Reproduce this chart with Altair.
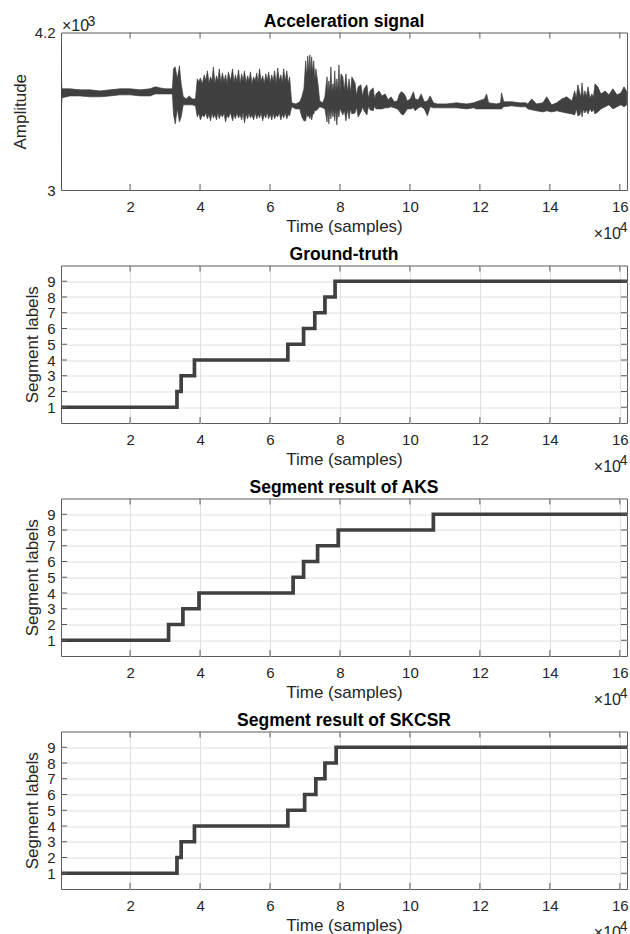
import altair as alt
import pandas as pd

FONT = "Liberation Sans"
INK = "#404040"
FRAME = "#5c5c5c"
GRID = "#e0e0e0"
LABEL = "#262626"
W = 566
H = 157.5

# ---------------- data ----------------
x_domain = [250, 162050]
x_ticks = [20000, 40000, 60000, 80000, 100000, 120000, 140000, 160000]

# acceleration signal: upper / lower envelope
sig_t = [250, 350, 500, 2800, 5700, 8500, 11400, 14300, 17100, 20000, 22900, 25700,
         27200, 28600, 30000, 32100, 32400, 32900, 33500, 34100, 34600, 35200, 36100,
         36900, 37800, 38700, 39200, 40100, 41200, 42100, 43000, 43800, 44700, 45500,
         46400, 47300, 48100, 49300, 50100, 51000, 51900, 52700, 53600, 54400, 55300,
         56200, 57000, 57900, 58800, 59600, 60500, 61300, 62200, 63100, 63900, 64800,
         65600, 66200, 67400, 68500, 69100, 69700, 70200, 70800, 71400, 71900, 72500,
         73100, 73700, 74200, 75100, 75700, 76300, 76800, 77400, 78000, 78500, 79100,
         79700, 80300, 80800, 81700, 82600, 83400, 84300, 85200, 86000, 86900, 87700,
         88600, 89500, 90300, 91200, 92000, 92900, 93800, 94600, 95500, 96400, 96900,
         97500, 98100, 98700, 99200, 100100, 101000, 101500, 102400, 103200, 104100,
         105000, 105800, 106700, 107800, 110400, 113300, 116200, 118200, 119000, 121300,
         121900, 122500, 124800, 125900, 126200, 126800, 129100, 131400, 133100, 133700,
         134800, 136200, 138000, 139100, 140500, 142000, 143400, 144800, 146300, 147100,
         148000, 148600, 149200, 150000, 150900, 152000, 152900, 153700, 154600, 155800,
         156900, 158000, 159200, 160300, 161200, 162000]
sig_hi = [4113, 3870, 3771, 3771, 3763, 3763, 3755, 3763, 3771, 3771, 3763, 3771,
          3786, 3778, 3771, 3771, 3923, 3938, 3847, 3946, 3809, 3710, 3694,
          3717, 3694, 3694, 3847, 3854, 3877, 3908, 3862, 3938, 3870, 3923,
          3892, 3877, 3900, 3923, 3877, 3915, 3885, 3908, 3870, 3900, 3862,
          3892, 3923, 3870, 3885, 3900, 3877, 3908, 3930, 3877, 3923, 3908,
          3862, 3664, 3656, 3672, 3710, 3771, 3984, 4022, 4029, 4014, 3984,
          3923, 3809, 3679, 3664, 3710, 3862, 3831, 3938, 3809, 3908, 3847,
          3953, 3885, 3862, 3885, 3847, 3862, 3816, 3786, 3801, 3771, 3801,
          3755, 3778, 3732, 3755, 3717, 3732, 3687, 3710, 3672, 3679, 3725,
          3748, 3740, 3717, 3679, 3694, 3748, 3694, 3687, 3732, 3672,
          3679, 3717, 3664, 3656, 3656, 3664, 3656, 3664, 3672, 3694,
          3732, 3664, 3656, 3664, 3740, 3672, 3672, 3664, 3664, 3656,
          3694, 3656, 3664, 3710, 3649, 3664, 3694, 3710, 3679, 3755,
          3801, 3732, 3816, 3755, 3786, 3732, 3809, 3786, 3732, 3755,
          3725, 3771, 3725, 3740, 3786, 3748]
sig_lo = [3009, 3600, 3702, 3717, 3717, 3710, 3710, 3717, 3725, 3725, 3717, 3717,
          3732, 3732, 3732, 3732, 3580, 3504, 3618, 3519, 3557, 3649, 3649,
          3649, 3649, 3641, 3557, 3534, 3557, 3542, 3527, 3549, 3534, 3542,
          3557, 3519, 3549, 3527, 3542, 3549, 3534, 3511, 3542, 3549, 3534,
          3542, 3549, 3527, 3549, 3542, 3534, 3542, 3557, 3534, 3549, 3542,
          3565, 3634, 3618, 3618, 3557, 3527, 3527, 3557, 3542, 3534, 3580,
          3603, 3618, 3634, 3626, 3618, 3519, 3504, 3542, 3557, 3527, 3496,
          3557, 3603, 3572, 3527, 3542, 3580, 3587, 3557, 3595, 3603, 3572,
          3611, 3603, 3618, 3618, 3618, 3626, 3626, 3634, 3626, 3618, 3603,
          3580, 3572, 3595, 3618, 3618, 3626, 3603, 3626, 3634, 3618,
          3565, 3634, 3626, 3626, 3626, 3626, 3618, 3626, 3618, 3618,
          3618, 3618, 3618, 3618, 3618, 3634, 3641, 3634, 3634, 3618,
          3611, 3603, 3595, 3603, 3595, 3603, 3595, 3587, 3580, 3572,
          3565, 3572, 3557, 3587, 3580, 3595, 3580, 3595, 3618, 3634,
          3649, 3618, 3634, 3649, 3634, 3649]

# narrow dips between the spikes of the busy stretches
dip_t = [39650, 40650, 41650, 42550, 43400, 44250, 45100, 45950, 46850, 47700,
         48700, 49700, 50550, 51450, 52300, 53150, 54000, 54850, 55750, 56600,
         57450, 58350, 59200, 60050, 60900, 61750, 62650, 63500, 64350, 65200,
         70500, 71100, 71650, 72200, 72800,
         76550, 77100, 77700, 78250, 78800, 79400, 80000, 81250, 82150, 83000,
         84750, 86450, 88150, 89900, 147550, 148900, 149600, 150450, 151450, 152450]
dip_hi = [3825, 3810, 3832, 3815, 3828, 3812, 3830, 3818, 3826, 3810,
          3832, 3815, 3828, 3812, 3830, 3818, 3826, 3810, 3832, 3815,
          3828, 3812, 3830, 3818, 3826, 3810, 3832, 3815, 3828, 3812,
          3860, 3900, 3880, 3890, 3840,
          3740, 3755, 3748, 3760, 3745, 3752, 3748, 3760, 3745, 3740,
          3720, 3715, 3700, 3695, 3700, 3710, 3705, 3712, 3700, 3705]
dip_lo = [3585, 3572, 3590, 3578, 3588, 3575, 3592, 3580, 3586, 3572,
          3590, 3578, 3588, 3575, 3592, 3580, 3586, 3572, 3590, 3578,
          3588, 3575, 3592, 3580, 3586, 3572, 3590, 3578, 3588, 3575,
          3585, 3570, 3580, 3575, 3610,
          3625, 3615, 3620, 3610, 3618, 3612, 3620, 3610, 3615, 3620,
          3630, 3632, 3640, 3640, 3620, 3615, 3618, 3612, 3620, 3615]

seg_labels = [1, 2, 3, 4, 5, 6, 7, 8, 9]
gt_change = [0, 33400, 34600, 38400, 65100, 69600, 72800, 75700, 78600]
aks_change = [0, 31000, 35100, 39700, 66600, 69600, 73600, 79500, 106700]
skcsr_change = [0, 33400, 34600, 38400, 65100, 69900, 73100, 75700, 78900]
t_end = 162050

# ---------------- helpers ----------------
xs = alt.Scale(domain=x_domain, nice=False, zero=False)


def x_axis(grid):
    return alt.Axis(values=x_ticks, labelExpr="datum.value / 10000",
                    title="Time (samples)", grid=grid)


def x_tick_layers(axis):
    df = pd.DataFrame({"t": x_ticks})
    top = alt.Chart(df).mark_rule(color=FRAME, strokeWidth=1).encode(
        x=alt.X("t:Q", scale=xs, axis=axis), y=alt.value(0), y2=alt.value(6))
    bot = alt.Chart(df).mark_rule(color=FRAME, strokeWidth=1).encode(
        x=alt.X("t:Q", scale=xs, axis=axis), y=alt.value(H), y2=alt.value(H - 6))
    return [top, bot]


def txt(s, x, y, size, align, weight="normal", color=LABEL):
    return alt.Chart(pd.DataFrame({"s": [s]})).mark_text(
        font=FONT, fontSize=size, align=align, baseline="alphabetic", color=color,
        fontWeight=weight,
    ).encode(text="s:N", x=alt.value(x), y=alt.value(y))


def exp10_x(power):
    return [txt("×10", W - 6, H + 48.5, 16, "right"),
            txt(power, W + 0.5, H + 41.5, 14, "right")]


def title(s):
    return txt(s, W / 2, -6, 17.5, "center", "bold", "black")


# ---------------- panel 1: signal ----------------
sig_df = pd.concat([
    pd.DataFrame({"t": sig_t, "hi": sig_hi, "lo": sig_lo}),
    pd.DataFrame({"t": dip_t, "hi": dip_hi, "lo": dip_lo}),
]).sort_values("t").reset_index(drop=True)
ax1 = x_axis(False)
sig = alt.Chart(sig_df).mark_area(color=INK, stroke=INK, strokeWidth=0.7, clip=True).encode(
    x=alt.X("t:Q", scale=xs, axis=ax1),
    y=alt.Y("hi:Q", scale=alt.Scale(domain=[3000, 4200], nice=False, zero=False),
            axis=alt.Axis(values=[3000, 4200], labelExpr="datum.value / 1000",
                          title="Amplitude", grid=False)),
    y2="lo:Q",
)
p1 = alt.layer(
    sig, *x_tick_layers(ax1),
    txt("×10", 1, -1.5, 16, "left"), txt("3", 26.5, -7, 14, "left"),
    *exp10_x("4"), title("Acceleration signal"),
).properties(width=W, height=H)


# ---------------- segment panels ----------------
ys = alt.Scale(domain=[0, 10], nice=False, zero=False)


def seg_panel(change, name):
    df = pd.DataFrame({"t": change + [t_end], "label": seg_labels + [seg_labels[-1]]})
    ax = x_axis(True)
    yax = alt.Axis(values=seg_labels, title="Segment labels", grid=True)
    line = alt.Chart(df).mark_line(interpolate="step-after", color=INK, strokeWidth=3.7,
                                   clip=True).encode(
        x=alt.X("t:Q", scale=xs, axis=ax),
        y=alt.Y("label:Q", scale=ys, axis=yax),
    )
    ydf = pd.DataFrame({"label": seg_labels})
    yl = alt.Chart(ydf).mark_rule(color=FRAME, strokeWidth=1).encode(
        y=alt.Y("label:Q", scale=ys, axis=yax), x=alt.value(0), x2=alt.value(6))
    yr = alt.Chart(ydf).mark_rule(color=FRAME, strokeWidth=1).encode(
        y=alt.Y("label:Q", scale=ys, axis=yax), x=alt.value(W - 6), x2=alt.value(W))
    return alt.layer(line, yl, yr, *x_tick_layers(ax), *exp10_x("4"),
                     title(name)).properties(width=W, height=H)


p2 = seg_panel(gt_change, "Ground-truth")
p3 = seg_panel(aks_change, "Segment result of AKS")
p4 = seg_panel(skcsr_change, "Segment result of SKCSR")

chart = alt.vconcat(p1, p2, p3, p4, spacing=75, bounds="flush").properties(
    padding={"left": 10, "top": 11.5, "right": 0, "bottom": 0},
    background="white",
).configure_axis(
    labelFont=FONT, titleFont=FONT, labelFontSize=15, titleFontSize=17,
    labelColor=LABEL, titleColor=LABEL, titleFontWeight="normal",
    ticks=False, domain=False, gridColor=GRID, gridWidth=1,
    labelFlush=False, labelOverlap=False,
).configure_axisX(
    labelPadding=9, titlePadding=4,
).configure_axisY(
    labelPadding=6, titlePadding=5,
).configure_view(
    stroke=FRAME, strokeWidth=1,
)

chart.save("out.html", embed_options={"renderer": "svg", "actions": False})
